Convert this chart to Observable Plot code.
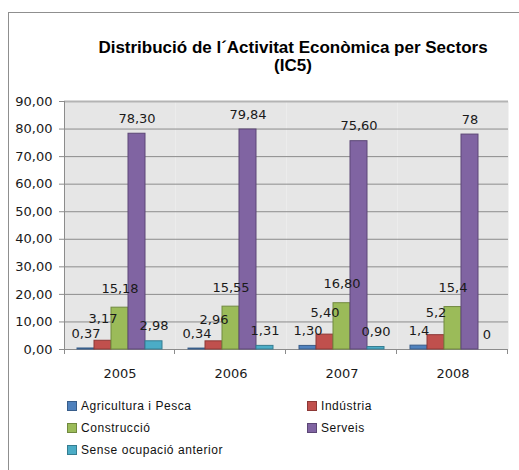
<!DOCTYPE html>
<html>
<head>
<meta charset="utf-8">
<script src="https://cdn.jsdelivr.net/npm/d3@7"></script>
<script src="https://cdn.jsdelivr.net/npm/@observablehq/plot@0.6"></script>
<style>
  body { margin: 0; background: #fff; }
  #page { position: relative; width: 519px; height: 470px; overflow: hidden; background: #fff; }
  #frame { position: absolute; left: 8px; top: 12px; width: 530px; height: 480px; border: 1px solid #8f8f8f; box-sizing: border-box; }
  #title { position: absolute; left: 93px; top: 39px; width: 400px; text-align: center; font-family: "Liberation Sans", Arial, sans-serif; font-weight: bold; font-size: 17px; line-height: 18px; color: #000; }
  #chart { position: absolute; left: 0; top: 0; }
  #legend { position: absolute; left: 0; top: 0; font-family: "Liberation Sans", Arial, sans-serif; font-size: 12px; letter-spacing: 0.55px; color: #111; }
  .item { position: absolute; display: flex; align-items: center; white-space: nowrap; height: 14px; }
  .sw { width: 8px; height: 8px; margin-right: 4px; border: 1px solid; }
</style>
</head>
<body>
<div id="page">
  <div id="frame"></div>
  <div id="title">Distribució de l´Activitat Econòmica per Sectors<br>(IC5)</div>
  <div id="chart"></div>
  <div id="legend"></div>
</div>
<script>
const years = ["2005", "2006", "2007", "2008"];
const sectors = ["Agricultura i Pesca", "Indústria", "Construcció", "Serveis", "Sense ocupació anterior"];
const fills = ["#4F81BD", "#C0504D", "#9BBB59", "#8064A2", "#4BACC6"];
const strokes = ["#385D8A", "#8C3836", "#71893F", "#5C4776", "#357D91"];
const agricultura = [0.37, 0.34, 1.30, 1.4];
const industria = [3.17, 2.96, 5.40, 5.2];
const construccio = [15.18, 15.55, 16.80, 15.4];
const serveis = [78.30, 79.84, 75.60, 78];
const sense = [2.98, 1.31, 0.90, 0];
const agriculturaLabels = ["0,37", "0,34", "1,30", "1,4"];
const industriaLabels = ["3,17", "2,96", "5,40", "5,2"];
const construccioLabels = ["15,18", "15,55", "16,80", "15,4"];
const serveisLabels = ["78,30", "79,84", "75,60", "78"];
const senseLabels = ["2,98", "1,31", "0,90", "0"];
const yTicks = [0, 10, 20, 30, 40, 50, 60, 70, 80, 90];

const series = [agricultura, industria, construccio, serveis, sense];
const seriesLabels = [agriculturaLabels, industriaLabels, construccioLabels, serveisLabels, senseLabels];
const data = [];
years.forEach((yr, i) => {
  sectors.forEach((s, j) => {
    data.push({year: yr, sector: s, value: series[j][i], label: seriesLabels[j][i]});
  });
});

const fmt = d => d.toFixed(2).replace(".", ",");
const labelOffset = {"Indústria": -22, "Construcció": -19};

const chart = Plot.plot({
  width: 519,
  height: 390,
  marginLeft: 63,
  marginRight: 11,
  marginTop: 101,
  marginBottom: 41,
  style: {fontFamily: "DejaVu Sans, Verdana, sans-serif", fontSize: "13px", color: "#1a1a1a", background: "transparent", overflow: "visible"},
  fx: {domain: years, padding: 0, label: null},
  x: {domain: sectors, paddingInner: 0, paddingOuter: 0.71, axis: null},
  y: {domain: [0, 90], label: null},
  color: {domain: sectors, range: fills},
  marks: [
    Plot.frame({fill: "#e6e6e6", stroke: null}),
    Plot.gridY(yTicks, {stroke: "#8c8c8c", strokeOpacity: 1}),
    Plot.ruleY([90], {stroke: "#b4b4b4", strokeWidth: 2}),
    Plot.ruleY([0], {stroke: "#8c8c8c"}),
    Plot.barY(data, {fx: "year", x: "sector", y: "value", fill: "sector", stroke: d => strokes[sectors.indexOf(d.sector)], strokeWidth: 1}),
    Plot.text(data.filter(d => !labelOffset[d.sector]), {fx: "year", x: "sector", y: "value", text: "label", dy: -15, fill: "#1a1a1a"}),
    Plot.text(data.filter(d => d.sector === "Indústria"), {fx: "year", x: "sector", y: "value", text: "label", dy: -22, fill: "#1a1a1a"}),
    Plot.text(data.filter(d => d.sector === "Construcció"), {fx: "year", x: "sector", y: "value", text: "label", dy: -19, fill: "#1a1a1a"}),
    Plot.axisY({ticks: yTicks, tickFormat: fmt, tickSize: 5, tickPadding: 7, stroke: "#8c8c8c", label: null}),
    Plot.axisFx({anchor: "bottom", tickSize: 0, tickPadding: 19, label: null})
  ]
});
document.getElementById("chart").appendChild(chart);

// Axis line and band-boundary ticks from the library's scales
const fxS = chart.scale("fx");
const yS = chart.scale("y");
const svg = d3.select(chart);
const bw = fxS.bandwidth;
const starts = years.map(v => fxS.apply(v));
const bounds = starts.concat([starts[starts.length - 1] + bw]);
const y0 = yS.apply(0), y90 = yS.apply(90);
const g = svg.append("g").attr("stroke", "#8c8c8c");
g.append("line").attr("x1", bounds[0] + 0.5).attr("x2", bounds[0] + 0.5).attr("y1", y90).attr("y2", y0 + 5);
bounds.slice(1).forEach(b => {
  g.append("line").attr("x1", b - 0.5).attr("x2", b - 0.5).attr("y1", y0).attr("y2", y0 + 5);
});

// Legend
const legendPos = [[67, 406], [307, 406], [67, 428], [307, 428], [67, 450]];
const legend = d3.select("#legend");
sectors.forEach((s, i) => {
  const it = legend.append("div").attr("class", "item")
    .style("left", legendPos[i][0] + "px").style("top", (legendPos[i][1] - 7) + "px");
  it.append("div").attr("class", "sw").style("background", fills[i]).style("border-color", strokes[i]);
  it.append("span").text(s);
});
</script>
</body>
</html>
